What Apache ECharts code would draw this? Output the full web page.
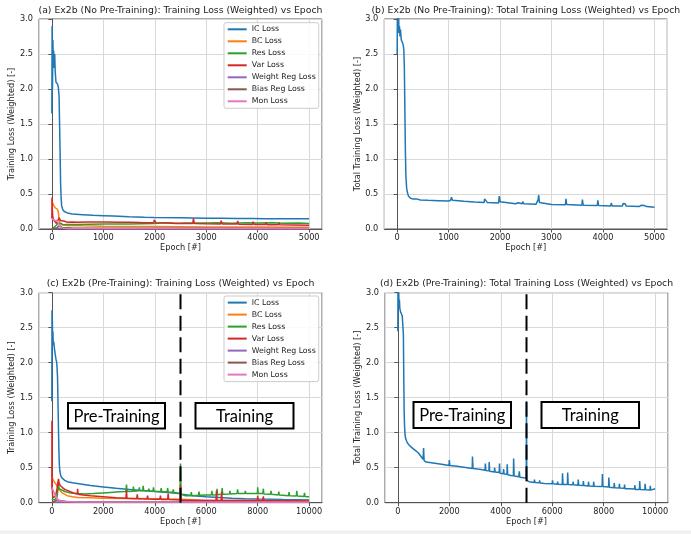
<!DOCTYPE html>
<html><head><meta charset="utf-8">
<script src="https://cdn.jsdelivr.net/npm/echarts@6/dist/echarts.min.js"></script>
<style>html,body{margin:0;padding:0;background:#fff}#c{width:691px;height:534px}</style>
</head><body><div id="c"></div>
<script>
const lossNames = ['IC Loss','BC Loss','Res Loss','Var Loss','Weight Reg Loss','Bias Reg Loss','Mon Loss'];
const lossColors = ['#1f77b4','#ff7f0e','#2ca02c','#d62728','#9467bd','#8c564b','#e377c2'];
const panelTitles = [
  '(a) Ex2b (No Pre-Training): Training Loss (Weighted) vs Epoch',
  '(b) Ex2b (No Pre-Training): Total Training Loss (Weighted) vs Epoch',
  '(c) Ex2b (Pre-Training): Training Loss (Weighted) vs Epoch',
  '(d) Ex2b (Pre-Training): Total Training Loss (Weighted) vs Epoch'
];
const yAxisNames = ['Training Loss (Weighted) [-]','Total Training Loss (Weighted) [-]','Training Loss (Weighted) [-]','Total Training Loss (Weighted) [-]'];
const xAxisName = 'Epoch [#]';
const phaseLabels = ['Pre-Training','Training'];
const phaseSplitEpoch = 5000;

// ---- (a) No pre-training, component losses ----
const icA = [[0,1.65],[5,2.9],[12,2.0],[20,2.7],[28,2.3],[35,2.55],[45,2.3],[55,2.5],[65,2.25],[80,2.1],[95,2.12],[110,2.07],[125,2.03],[140,1.9],[155,1.3],[170,0.65],[180,0.45],[190,0.33],[210,0.28],[240,0.25],[300,0.23],[400,0.215],[600,0.205],[800,0.195],[1000,0.19],[1200,0.185],[1500,0.175],[1800,0.168],[1990,0.165],[2000,0.178],[2020,0.163],[2500,0.16],[2740,0.158],[2750,0.175],[2770,0.157],[3000,0.155],[3290,0.153],[3300,0.166],[3320,0.152],[3590,0.151],[3600,0.163],[3620,0.15],[3890,0.15],[3900,0.16],[3920,0.149],[4160,0.148],[4170,0.157],[4190,0.148],[4500,0.147],[5000,0.146]];
const bcA = [[0,0.42],[10,0.38],[25,0.36],[40,0.33],[55,0.31],[70,0.3],[90,0.29],[110,0.28],[125,0.24],[140,0.15],[160,0.08],[200,0.06],[300,0.05],[600,0.045],[1000,0.04],[2000,0.035],[3000,0.03],[4000,0.028],[5000,0.025]];
const resA = [[0,0.0],[30,0.02],[80,0.05],[120,0.08],[150,0.1],[180,0.08],[220,0.06],[300,0.065],[500,0.065],[1000,0.07],[1500,0.072],[2000,0.078],[2200,0.088],[2400,0.079],[2600,0.086],[3000,0.085],[3200,0.09],[3500,0.083],[3800,0.088],[4000,0.085],[4300,0.09],[4500,0.082],[4800,0.086],[5000,0.08]];
const varA = [[0,0.15],[3,0.45],[8,0.3],[15,0.2],[25,0.15],[40,0.12],[60,0.1],[90,0.08],[120,0.1],[140,0.16],[155,0.18],[170,0.12],[200,0.1],[250,0.11],[300,0.095],[400,0.1],[500,0.095],[700,0.1],[900,0.1],[1050,0.1],[1060,0.125],[1080,0.1],[1300,0.098],[1500,0.095],[1700,0.092],[1710,0.112],[1750,0.09],[1980,0.09],[1990,0.13],[2020,0.09],[2300,0.085],[2500,0.08],[2740,0.078],[2750,0.15],[2770,0.08],[3000,0.075],[3280,0.072],[3290,0.12],[3310,0.072],[3600,0.07],[3610,0.115],[3630,0.068],[3900,0.066],[3910,0.105],[3930,0.065],[4150,0.063],[4160,0.095],[4180,0.062],[4400,0.06],[4410,0.09],[4430,0.06],[4700,0.058],[5000,0.055]];
const wregA = [[0,0.005],[200,0.012],[5000,0.01]];
const bregA = [[0,0.0],[100,0.02],[150,0.05],[200,0.02],[400,0.01],[5000,0.005]];
const monA = [[0,0.15],[10,0.13],[50,0.12],[100,0.12],[130,0.1],[160,0.04],[200,0.015],[300,0.005],[5000,0.002]];

// ---- (b) No pre-training, total ----
const totA = [[0,2.5],[5,3.2],[10,2.8],[15,3.3],[20,2.85],[25,3.2],[35,2.8],[45,2.9],[55,2.75],[65,2.85],[80,2.7],[100,2.67],[120,2.62],[130,2.55],[140,2.3],[150,1.7],[160,1.1],[170,0.75],[185,0.58],[200,0.52],[220,0.47],[260,0.44],[300,0.43],[340,0.43],[360,0.45],[380,0.43],[450,0.415],[600,0.41],[800,0.405],[1000,0.4],[1040,0.41],[1055,0.455],[1075,0.41],[1100,0.405],[1300,0.395],[1500,0.385],[1690,0.38],[1700,0.43],[1720,0.41],[1750,0.38],[1970,0.37],[1985,0.47],[2000,0.39],[2030,0.365],[2300,0.36],[2350,0.375],[2370,0.36],[2430,0.36],[2440,0.39],[2460,0.36],[2700,0.355],[2740,0.42],[2750,0.485],[2765,0.38],[2800,0.355],[3000,0.35],[3270,0.345],[3280,0.43],[3295,0.35],[3590,0.34],[3600,0.42],[3615,0.34],[3890,0.335],[3900,0.41],[3915,0.335],[4150,0.33],[4160,0.37],[4180,0.33],[4380,0.33],[4390,0.365],[4430,0.36],[4450,0.33],[4700,0.32],[4750,0.34],[4800,0.335],[4850,0.32],[5000,0.31]];

// ---- (c) Pre-training, component losses ----
const icC = [[0,1.45],[5,2.75],[12,2.2],[20,2.6],[30,2.25],[40,2.45],[55,2.25],[75,2.3],[100,2.2],[130,2.12],[160,2.05],[190,2.0],[220,1.8],[245,1.3],[270,0.8],[290,0.55],[310,0.45],[350,0.38],[400,0.35],[500,0.32],[600,0.3],[800,0.285],[990,0.275],[1000,0.3],[1030,0.27],[1500,0.245],[2000,0.225],[2500,0.205],[3000,0.19],[3500,0.175],[4000,0.16],[4500,0.145],[4950,0.13],[5000,0.15],[5050,0.12],[5500,0.1],[6000,0.085],[6500,0.075],[7000,0.065],[7500,0.058],[8000,0.052],[9000,0.045],[10000,0.04]];
const bcC = [[0,0.4],[20,0.35],[60,0.32],[100,0.3],[150,0.27],[200,0.24],[300,0.18],[400,0.14],[600,0.1],[800,0.085],[1000,0.075],[1500,0.07],[2000,0.065],[3000,0.06],[4000,0.055],[5000,0.05],[5020,0.035],[6000,0.032],[8000,0.03],[10000,0.028]];
const resC = [[0,0.05],[100,0.04],[200,0.08],[240,0.2],[260,0.28],[280,0.2],[350,0.2],[500,0.16],[700,0.14],[1000,0.13],[1300,0.125],[1600,0.13],[2000,0.14],[2400,0.15],[2600,0.155],[2880,0.16],[2900,0.26],[2920,0.16],[3150,0.165],[3170,0.23],[3190,0.165],[3380,0.17],[3400,0.22],[3420,0.17],[3530,0.17],[3550,0.24],[3570,0.17],[3750,0.17],[3770,0.2],[3790,0.165],[3930,0.165],[3950,0.22],[3970,0.165],[4230,0.16],[4250,0.21],[4270,0.158],[4480,0.155],[4500,0.21],[4520,0.15],[4700,0.15],[4720,0.19],[4740,0.145],[4980,0.13],[5000,0.56],[5020,0.12],[5200,0.1],[5400,0.1],[5420,0.15],[5440,0.1],[5700,0.105],[5720,0.16],[5740,0.105],[6000,0.11],[6200,0.11],[6220,0.17],[6240,0.11],[6400,0.115],[6420,0.2],[6440,0.115],[6600,0.12],[6620,0.21],[6640,0.12],[6900,0.125],[6920,0.17],[6940,0.125],[7200,0.13],[7220,0.19],[7240,0.13],[7500,0.13],[7520,0.17],[7540,0.13],[7800,0.13],[7990,0.13],[8000,0.22],[8020,0.13],[8200,0.13],[8220,0.2],[8240,0.125],[8500,0.12],[8520,0.17],[8540,0.12],[8800,0.11],[8820,0.16],[8840,0.11],[9200,0.1],[9220,0.15],[9240,0.1],[9500,0.095],[9520,0.17],[9540,0.095],[9800,0.09],[9820,0.14],[9840,0.088],[10000,0.085]];
const varC = [[0,0.2],[3,1.17],[8,0.4],[15,0.2],[30,0.1],[60,0.07],[100,0.06],[150,0.1],[200,0.2],[240,0.3],[260,0.34],[280,0.28],[320,0.25],[400,0.22],[500,0.19],[700,0.16],[900,0.13],[990,0.125],[1000,0.2],[1020,0.12],[1200,0.11],[1500,0.1],[2000,0.085],[2500,0.07],[2880,0.065],[2900,0.18],[2920,0.062],[3300,0.058],[3320,0.12],[3340,0.057],[3500,0.055],[3700,0.053],[3720,0.1],[3740,0.052],[4000,0.05],[4200,0.048],[4220,0.1],[4240,0.047],[4500,0.045],[4520,0.13],[4540,0.044],[4800,0.042],[4990,0.04],[5000,0.26],[5020,0.035],[5500,0.035],[6000,0.033],[6380,0.032],[6400,0.17],[6420,0.032],[6580,0.032],[6600,0.16],[6620,0.031],[7000,0.03],[7500,0.03],[7990,0.03],[8000,0.1],[8020,0.03],[8200,0.03],[8220,0.09],[8240,0.03],[9000,0.028],[10000,0.025]];
const wregC = [[0,0.01],[10000,0.01]];
const bregC = [[0,0.0],[200,0.04],[300,0.03],[600,0.015],[1000,0.01],[10000,0.005]];
const monC = [[0,0.22],[30,0.2],[80,0.15],[150,0.08],[250,0.04],[400,0.02],[1000,0.01],[10000,0.008]];

// ---- (d) Pre-training, total ----
const totC = [[0,2.45],[5,3.3],[10,2.9],[15,3.4],[25,2.85],[35,3.0],[45,2.8],[60,2.9],[75,2.78],[90,2.8],[110,2.72],[140,2.7],[170,2.67],[200,2.65],[215,2.4],[230,1.8],[245,1.3],[260,1.1],[280,0.97],[300,0.92],[350,0.87],[400,0.84],[500,0.8],[600,0.77],[700,0.74],[800,0.71],[900,0.66],[980,0.62],[1000,0.78],[1020,0.6],[1100,0.58],[1300,0.57],[1500,0.56],[1700,0.55],[1990,0.53],[2000,0.61],[2020,0.53],[2300,0.52],[2500,0.51],[2700,0.5],[2890,0.49],[2900,0.66],[2920,0.49],[3100,0.48],[3300,0.47],[3390,0.465],[3400,0.56],[3420,0.46],[3540,0.455],[3550,0.58],[3570,0.45],[3750,0.44],[3760,0.5],[3780,0.44],[3940,0.43],[3950,0.56],[3970,0.42],[4100,0.415],[4110,0.48],[4130,0.41],[4240,0.405],[4250,0.55],[4270,0.4],[4400,0.39],[4490,0.385],[4500,0.63],[4520,0.38],[4700,0.37],[4720,0.45],[4740,0.365],[4900,0.355],[4990,0.35],[5000,1.45],[5010,0.32],[5100,0.3],[5300,0.29],[5310,0.33],[5330,0.29],[5500,0.285],[5510,0.32],[5530,0.28],[5700,0.275],[5710,0.3],[5730,0.275],[6000,0.27],[6010,0.32],[6030,0.27],[6200,0.265],[6210,0.3],[6230,0.265],[6390,0.26],[6400,0.42],[6420,0.26],[6590,0.26],[6600,0.43],[6620,0.26],[6800,0.255],[6810,0.3],[6830,0.255],[7000,0.25],[7010,0.33],[7030,0.25],[7200,0.245],[7210,0.31],[7230,0.245],[7400,0.24],[7410,0.3],[7430,0.24],[7600,0.235],[7610,0.3],[7630,0.235],[7940,0.23],[7950,0.41],[7970,0.23],[8190,0.225],[8200,0.36],[8220,0.22],[8400,0.215],[8410,0.28],[8430,0.215],[8600,0.21],[8610,0.27],[8630,0.21],[8800,0.205],[8810,0.26],[8830,0.2],[9000,0.2],[9200,0.195],[9210,0.25],[9230,0.19],[9390,0.19],[9400,0.31],[9420,0.19],[9600,0.185],[9610,0.27],[9630,0.185],[9800,0.18],[9810,0.24],[9830,0.18],[10000,0.2]];

const compA = [icA,bcA,resA,varA,wregA,bregA,monA];
const compC = [icC,bcC,resC,varC,wregC,bregC,monC];

const FONT = 'DejaVu Sans';
const TXT = '#222';
const SPINE = '#555';
const grids = [
  {left:39, top:19, width:283, height:210},
  {left:384.3, top:19, width:283, height:210},
  {left:39, top:292.7, width:283, height:210},
  {left:385, top:292.7, width:283, height:210}
];
const xRanges = [[-250,5250,1000],[-250,5250,1000],[-500,10500,2000],[-500,10500,2000]];

const option = {
  animation:false,
  backgroundColor:'#fff',
  textStyle:{fontFamily:FONT},
  title: panelTitles.map((t,i)=>({
    text:t, left: grids[i].left + grids[i].width/2, textAlign:'center',
    top: i<2 ? 4.5 : 277.5, padding:0,
    textStyle:{fontSize:9.3, fontWeight:'normal', color:TXT, fontFamily:FONT, lineHeight:12}
  })),
  grid: grids.map(g=>Object.assign({show:true, borderColor:SPINE, borderWidth:1, backgroundColor:'transparent', containLabel:false}, g)),
  xAxis: xRanges.map((r,i)=>({
    type:'value', gridIndex:i, min:r[0], max:r[1], splitNumber:5, minInterval:r[2], maxInterval:r[2],
    name:xAxisName, nameLocation:'middle', nameGap:15,
    nameTextStyle:{fontSize:8.2, color:TXT, fontFamily:FONT},
    axisLine:{show:true, onZero:false, lineStyle:{color:SPINE, width:1}},
    axisTick:{show:true, length:3.5, lineStyle:{color:SPINE}},
    axisLabel:{fontSize:8.2, color:TXT, fontFamily:FONT, margin:5, showMinLabel:false, showMaxLabel:false, formatter:v=>String(v)},
    splitLine:{show:true, lineStyle:{color:'#d9d9d9', width:1.1}}
  })),
  yAxis: yAxisNames.map((n,i)=>({
    type:'value', gridIndex:i, min:0, max:3, interval:0.5,
    name:n, nameLocation:'middle', nameGap:21,
    nameTextStyle:{fontSize:8.2, color:TXT, fontFamily:FONT},
    axisLine:{show:true, lineStyle:{color:SPINE, width:1}},
    axisTick:{show:true, length:3.5, lineStyle:{color:SPINE}},
    axisLabel:{fontSize:8.2, color:TXT, fontFamily:FONT, margin:6, formatter:v=>v.toFixed(1)},
    splitLine:{show:true, lineStyle:{color:'#d9d9d9', width:1.1}}
  })),
  legend: [
    {top:22.7}, {top:296}
  ].map(l=>({
    data:lossNames, orient:'vertical', left:224, top:l.top,
    icon:'rect', itemWidth:19, itemHeight:2, itemGap:0,
    padding:[0.6,3,1,3.7],
    backgroundColor:'rgba(255,255,255,0.85)', borderColor:'#cccccc', borderWidth:1, borderRadius:2,
    textStyle:{fontSize:7.8, lineHeight:12, color:TXT, fontFamily:FONT},
    selectedMode:false
  })),
  series: [],
  graphic: []
};

function addLine(name, data, color, idx, z){
  option.series.push({
    type:'line', name:name, data:data, xAxisIndex:idx, yAxisIndex:idx,
    showSymbol:false, symbol:'none', clip:true, z:z||2,
    lineStyle:{color:color, width:1.5}, itemStyle:{color:color}
  });
}
compA.forEach((d,k)=>addLine(lossNames[k], d, lossColors[k], 0));
addLine('Total', totA, lossColors[0], 1);
compC.forEach((d,k)=>addLine(lossNames[k], d, lossColors[k], 2));
addLine('Total', totC, lossColors[0], 3);

[2,3].forEach(idx=>{
  option.series.push({
    type:'line', name:'split', xAxisIndex:idx, yAxisIndex:idx, showSymbol:false, symbol:'none', z:5,
    data:[[phaseSplitEpoch,0],[phaseSplitEpoch,3]],
    lineStyle:{color:'#000', width:2, type:[15,6.5]}
  });
});

const boxes = [
  {x:68, y:403, w:97, h:25.5, t:phaseLabels[0]},
  {x:195.5, y:403, w:98, h:25.5, t:phaseLabels[1]},
  {x:413.5, y:402, w:97.5, h:26, t:phaseLabels[0]},
  {x:541.5, y:402, w:97.5, h:26, t:phaseLabels[1]}
];
boxes.forEach(b=>{
  option.graphic.push({
    type:'rect', z:100, shape:{x:b.x, y:b.y, width:b.w, height:b.h},
    style:{fill:'#fff', stroke:'#000', lineWidth:2}
  });
  option.graphic.push({
    type:'text', z:101, x:b.x + b.w/2, y:b.y + b.h/2 + 0.5,
    style:{text:b.t, fill:'#000', fontSize:16.5, fontFamily:'Lato', align:'center', verticalAlign:'middle', textAlign:'center', textVerticalAlign:'middle'}
  });
});
option.graphic.push({type:'rect', z:100, shape:{x:0, y:530.5, width:691, height:4}, style:{fill:'#f0f0f0'}});

const chart = echarts.init(document.getElementById('c'), null, {renderer:'canvas'});
chart.setOption(option);
</script></body></html>
